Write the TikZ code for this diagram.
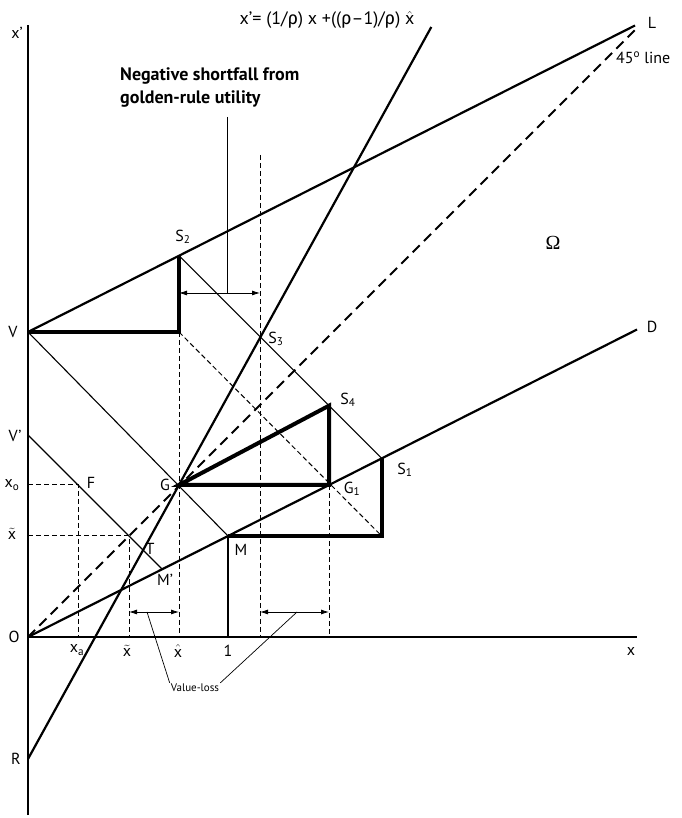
\documentclass[tikz,border=0pt]{standalone}
\usepackage{fontspec}
\setmainfont{PT Sans}
\newfontfamily\grk{Fira Sans}
\newfontfamily\omg{Liberation Serif}
\usetikzlibrary{arrows.meta}
\newcommand\xhat{$\hat{\mbox{x}}$}
\newcommand\xtil{$\tilde{\mbox{x}}$}
\newcommand\rh{{\grk ρ}}
\begin{document}
\begin{tikzpicture}[x=1pt,y=1pt,
 lab/.style={font=\fontsize{16}{18}\selectfont, inner sep=0pt},
 axisline/.style={line width=2.5pt},
 mainline/.style={line width=2.2pt},
 thinline/.style={line width=1.1pt},
 heavy/.style={line width=4pt, line join=miter},
 dthin/.style={line width=1pt, dash pattern=on 5pt off 3pt},
 dfortyfive/.style={line width=2pt, dash pattern=on 10pt off 6pt},
 dbl/.style={line width=0.8pt, {Latex[length=8pt,width=5pt]}-{Latex[length=8pt,width=5pt]}},
 ptr/.style={line width=0.7pt}]
\useasboundingbox (-28,-181) rectangle (653,637);
% coordinates
\coordinate (O) at (0,0);
\coordinate (ytop) at (0,612);
\coordinate (ybot) at (0,-178);
\coordinate (xend) at (609,0);
\coordinate (V) at (0,305);
\coordinate (Vc) at (151,305);
\coordinate (S2) at (151,381.3);
\coordinate (L) at (607,611.5);
\coordinate (G) at (151,152);
\coordinate (M) at (200,101);
\coordinate (Dend) at (609,307.5);
\coordinate (S1) at (353.7,178.6);
\coordinate (S1b) at (353.7,101);
\coordinate (G1) at (301,152);
\coordinate (S4) at (301,231.3);
\coordinate (S3) at (232,300.3);
\coordinate (R) at (0,-122);
\coordinate (Stop) at (403.3,610);
\coordinate (Lff) at (607,607);
\coordinate (Vp) at (0,202);
\coordinate (Mp) at (134.2,67.8);
\coordinate (F) at (50,152);
\coordinate (Tt) at (101,101);
\coordinate (dtop) at (232,482);
\coordinate (xo) at (0,152);
\coordinate (xt) at (0,101);
\coordinate (xa0) at (50,0);
\coordinate (xt0) at (101,0);
\coordinate (xh0) at (151,0);
\coordinate (one0) at (200,0);
\coordinate (d30) at (232,0);
\coordinate (g10) at (301,0);
% axes
\draw[axisline] (ybot) -- (ytop);
\draw[axisline] (O) -- (xend);
% main lines
\draw[mainline] (V) -- (L);
\draw[mainline] (O) -- (Dend);
\draw[mainline] (R) -- (Stop);
\draw[dfortyfive] (O) -- (Lff);
% thin lines
\draw[thinline] (S2) -- (S1);
\draw[thinline] (V) -- (M);
\draw[thinline] (Vp) -- (Mp);
\draw[thinline] (M) -- (one0);
% dashed
\draw[dthin] (Vc) -- (S1b);
\draw[dthin] (Vc) -- (xh0);
\draw[dthin] (dtop) -- (d30);
\draw[dthin] (G1) -- (g10);
\draw[dthin] (xo) -- (F) -- (xa0);
\draw[dthin] (xt) -- (Tt) -- (xt0);
% heavy
\draw[heavy] (V) -- (Vc) -- (S2);
\draw[heavy] (G) -- (G1) -- (S4) -- cycle;
\draw[heavy] (M) -- (S1b) -- (S1);
% annotations
\coordinate (na) at (151,344);
\coordinate (nb) at (232,344);
\coordinate (nm) at (199,344);
\coordinate (nt) at (199,520);
\draw[dbl] (na) -- (nb);
\draw[ptr] (nt) -- (nm);
\node[anchor=west, align=left, font=\fontsize{18}{23}\selectfont\bfseries, inner sep=0pt] (neg) at (92,549) {Negative shortfall from\\golden-rule utility};
\coordinate (va) at (101,25);
\coordinate (vb) at (151,25);
\coordinate (vc) at (232,25);
\coordinate (vd) at (301,25);
\coordinate (vm1) at (119,25);
\coordinate (vm2) at (269,25);
\draw[dbl] (va) -- (vb);
\draw[dbl] (vc) -- (vd);
\node[font=\fontsize{11}{13}\selectfont, inner sep=1pt] (vl) at (167,-51) {Value-loss};
\draw[ptr] (vm1) -- (vl.north west);
\draw[ptr] (vm2) -- (vl.north east);
% labels
\node[lab] (lxp) at (-11,604) {x'};
\node[lab, font=\fontsize{18}{20}\selectfont] (lform) at (299,617) {x'= (1/\rh) x +((\rh–1)/\rh) \xhat};
\node[lab] (lL) at (624,614) {L};
\node[lab, anchor=west] (l45) at (588,579) {45\textsuperscript{o} line};
\node[lab, font=\fontsize{20}{22}\omg] (lom) at (525,394) {Ω};
\node[lab] (lD) at (624,310) {D};
\node[lab] (lS2) at (155,400) {S\textsubscript{2}};
\node[lab] (lS3) at (248,298) {S\textsubscript{3}};
\node[lab] (lS4) at (320,237) {S\textsubscript{4}};
\node[lab] (lS1) at (377,167) {S\textsubscript{1}};
\node[lab] (lG1) at (324,148) {G\textsubscript{1}};
\node[lab] (lG) at (137,152) {G};
\node[lab] (lF) at (63,154) {F};
\node[lab] (lT) at (122,88) {T};
\node[lab] (lMp) at (137,57) {M'};
\node[lab] (lM) at (213,87) {M};
\node[lab] (lV) at (-15,305) {V};
\node[lab] (lVp) at (-13,201) {V'};
\node[lab] (lxo) at (-16,152) {x\textsubscript{o}};
\node[lab] (lxt) at (-16,103) {\xtil};
\node[lab] (lO) at (-14,0) {O};
\node[lab] (lR) at (-12,-122) {R};
\node[lab] (lxa) at (49,-13) {x\textsubscript{a}};
\node[lab] (lxt2) at (99,-14) {\xtil};
\node[lab] (lxh) at (150,-14) {\xhat};
\node[lab] (lone) at (200,-14) {1};
\node[lab] (lx) at (603,-15) {x};
\end{tikzpicture}
\end{document}
